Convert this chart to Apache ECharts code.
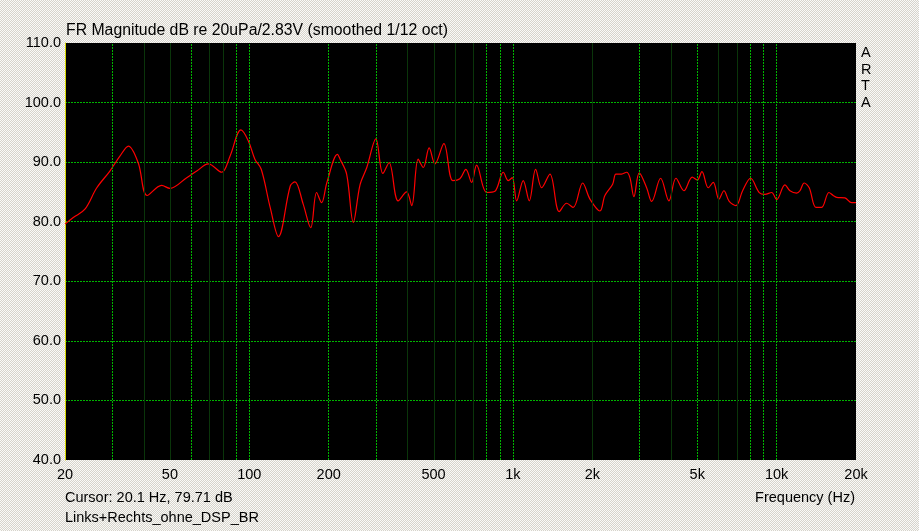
<!DOCTYPE html>
<html>
<head>
<meta charset="utf-8">
<script src="https://cdn.jsdelivr.net/npm/echarts@6/dist/echarts.min.js"></script>
<title>FR Magnitude</title>
<style>
  html, body { margin: 0; height: 100%; }
  body {
    background-color: #ecebe6;
    background-image: conic-gradient(#d6d3cb 25%, #fafaf8 0 50%, #d6d3cb 0 75%, #fafaf8 0);
    background-size: 2px 2px;
  }
</style>
</head>
<body>
<div id="container" style="width: 919px; height: 531px"></div>
<script type="text/javascript">

    // frequency response (Hz, dB)
    let freqHz = [20, 21.5, 23.8, 26.4, 29.6, 32.3, 34.8, 37.9, 41.0, 46.5,
        50.0, 57.9, 63.2, 69.9, 78.6, 84.5, 93.0, 99.1, 105, 111,
        120, 129, 143, 149, 160, 171, 180, 188, 197, 216,
        221, 234, 248, 263, 279, 302, 321, 339, 367, 395,
        413, 437, 457, 481, 506, 547, 591, 629, 663, 697,
        728, 795, 854, 919, 960, 994, 1033, 1094, 1153, 1219,
        1285, 1381, 1498, 1598, 1693, 1838, 1959, 2138, 2232, 2388,
        2458, 2582, 2698, 2777, 2876, 3013, 3213, 3358, 3631, 3904,
        4151, 4452, 4786, 4999, 5208, 5504, 5749, 6042, 6311, 6610,
        7008, 7430, 7966, 8590, 9028, 9572, 10000, 10752, 11232, 11908,
        12258, 12726, 13292, 14092, 14810, 15786, 16390, 16884, 18154, 19246,
        20000]
    let magDb = [79.6, 80.7, 82.1, 85.7, 88.5, 91.0, 92.7, 89.9, 84.4, 86.1,
        85.6, 87.4, 88.5, 89.7, 88.3, 91.0, 95.4, 93.6, 90.5, 88.8,
        82.4, 77.5, 86.0, 86.7, 83.0, 79.0, 84.9, 83.2, 86.6, 91.3,
        90.5, 88.0, 79.9, 86.2, 89.1, 93.9, 88.1, 89.9, 83.5, 85.0,
        82.7, 90.5, 89.1, 92.4, 89.7, 93.1, 86.9, 87.2, 88.8, 86.6,
        89.5, 84.9, 85.1, 88.3, 86.9, 87.4, 83.5, 86.9, 83.5, 88.8,
        85.7, 88.0, 81.7, 83.1, 82.4, 86.5, 83.8, 81.8, 84.4, 86.3,
        88.0, 88.0, 88.3, 87.4, 84.2, 88.2, 85.7, 83.4, 87.3, 83.5,
        87.3, 85.2, 87.5, 87.0, 88.4, 85.7, 86.6, 83.8, 85.2, 83.4,
        82.7, 85.2, 87.3, 84.9, 84.6, 84.9, 83.7, 86.2, 85.2, 84.8,
        85.2, 86.5, 85.7, 82.4, 82.4, 84.9, 84.4, 84.1, 84.0, 83.2,
        83.2]

    let xTickHz = [20, 50, 100, 200, 500, 1000, 2000, 5000, 10000, 20000]
    let xTickText = ['20', '50', '100', '200', '500', '1k', '2k', '5k', '10k', '20k']
    let gridHz = [30, 40, 50, 60, 70, 80, 90, 100, 200, 300, 400, 500, 600, 700, 800, 900,
        1000, 2000, 3000, 4000, 5000, 6000, 7000, 8000, 9000, 10000]
    let brightHz = [30, 60, 90, 100, 200, 300, 800, 900, 1000, 3000, 5000, 8000, 9000, 10000]

    let lg = Math.log10
    let curve = freqHz.map((f, i) => [lg(f), magDb[i]])

    let vLines = gridHz.map(f => {
        let bright = brightHz.indexOf(f) >= 0
        return {
            xAxis: lg(f),
            lineStyle: bright
                ? {color: '#00b400', type: [2, 1], width: 1}
                : {color: '#0a350a', type: 'solid', width: 1}
        }
    })

    let fontFam = '"Liberation Sans", Arial, sans-serif'
    let txt = {fill: '#000', font: '14.5px ' + fontFam}

    let dom = document.getElementById("container");
    let chart = echarts.init(dom);
    chart.setOption({
        animation: false,
        backgroundColor: 'transparent',
        grid: {left: 65, right: 63, top: 43, bottom: 71,
            show: true, backgroundColor: '#000', borderWidth: 0},
        xAxis: {
            type: 'value',
            min: lg(20),
            max: lg(20000),
            splitLine: {show: false},
            axisTick: {show: false},
            axisLine: {show: false},
            axisLabel: {
                customValues: xTickHz.map(lg),
                color: '#000',
                fontSize: 14.5,
                fontFamily: fontFam,
                margin: 7,
                formatter: v => {
                    let i = xTickHz.findIndex(h => Math.abs(lg(h) - v) < 1e-6)
                    return i >= 0 ? xTickText[i] : ''
                }
            }
        },
        yAxis: {
            type: 'value',
            min: 40,
            max: 110,
            interval: 10,
            axisLine: {show: true, lineStyle: {color: '#d8d800', width: 1}},
            axisTick: {show: false},
            axisLabel: {
                color: '#000',
                fontSize: 14.5,
                fontFamily: fontFam,
                margin: 4,
                formatter: v => v.toFixed(1)
            },
            splitLine: {
                show: true, showMinLine: false, showMaxLine: false,
                lineStyle: {color: '#00b400', type: [2, 1], width: 1}
            }
        },
        series: [
            {
                type: 'line',
                data: [],
                silent: true,
                z: 1,
                markLine: {
                    silent: true,
                    symbol: 'none',
                    label: {show: false},
                    animation: false,
                    data: vLines
                }
            },
            {
                type: 'line',
                data: curve,
                z: 3,
                smooth: 0.35,
                showSymbol: false,
                lineStyle: {color: '#ff0000', width: 1.2}
            }
        ],
        graphic: [
            {type: 'text', left: 66, top: 23,
                style: {text: 'FR Magnitude dB re 20uPa/2.83V (smoothed 1/12 oct)', fill: '#000', font: '15.8px ' + fontFam}},
            {type: 'text', left: 65, top: 490,
                style: Object.assign({text: 'Cursor: 20.1 Hz, 79.71 dB'}, txt)},
            {type: 'text', left: 65, top: 510,
                style: Object.assign({text: 'Links+Rechts_ohne_DSP_BR'}, txt)},
            {type: 'text', right: 64, top: 490,
                style: Object.assign({text: 'Frequency (Hz)'}, txt)},
            {type: 'text', left: 861, top: 45,
                style: Object.assign({text: 'A\nR\nT\nA', lineHeight: 16.5, align: 'center'}, txt)}
        ]
    }, true)

</script>
</body>
</html>
